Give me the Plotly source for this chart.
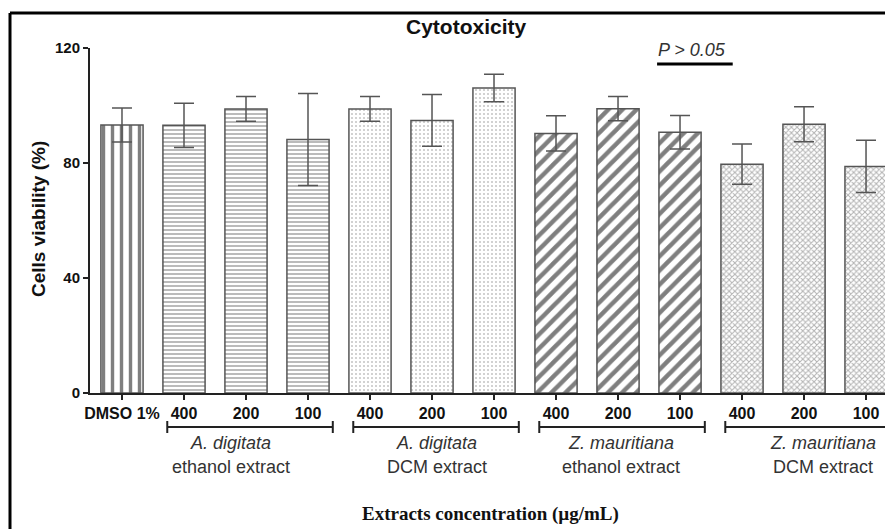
import plotly.graph_objects as go

# ---- data ----
tick_labels = ["DMSO 1%", "400", "200", "100", "400", "200", "100",
               "400", "200", "100", "400", "200", "100"]
viability = [93.2, 93.1, 98.8, 88.2, 98.8, 94.8, 106.1, 90.3, 98.9, 90.7, 79.6, 93.5, 78.8]
sem = [5.9, 7.7, 4.3, 16.0, 4.3, 9.0, 4.8, 6.1, 4.2, 5.8, 7.0, 6.1, 9.1]
group_of_bar = [0, 1, 1, 1, 2, 2, 2, 3, 3, 3, 4, 4, 4]
group_species = ["A. digitata", "A. digitata", "Z. mauritiana", "Z. mauritiana"]
group_solvent = ["ethanol extract", "DCM extract", "ethanol extract", "DCM extract"]
group_bars = [[1, 2, 3], [4, 5, 6], [7, 8, 9], [10, 11, 12]]
title = "Cytotoxicity"
y_title = "Cells viability (%)"
x_title = "Extracts concentration (µg/mL)"
sig_text = "P > 0.05"
sig_y = 114.4

# ---- styles ----
patterns = [
    dict(shape="|", fgcolor="#000000", bgcolor="white", size=9, solidity=0.38),
    dict(shape="-", fgcolor="#555555", bgcolor="white", size=4, solidity=0.4),
    dict(shape=".", fgcolor="#888888", bgcolor="white", size=4, solidity=0.2),
    dict(shape="/", fgcolor="#000000", bgcolor="white", size=10, solidity=0.45),
    dict(shape="x", fgcolor="#666666", bgcolor="white", size=4, solidity=0.45),
]
FONT = "Liberation Sans, Arial, sans-serif"

# browser body margin offsets the figure by 8px
OFF = 8
FIG_W, FIG_H = 893 - OFF, 529 - OFF

fig = go.Figure()
xs = list(range(len(viability)))
for g in range(5):
    idx = [i for i in xs if group_of_bar[i] == g]
    fig.add_trace(go.Bar(
        x=idx, y=[viability[i] for i in idx],
        error_y=dict(type="data", array=[sem[i] for i in idx],
                     color="#555555", thickness=1.5, width=10),
        width=0.68,
        marker=dict(color="white", pattern=patterns[g],
                    line=dict(color="#555555", width=1.5)),
        showlegend=False,
    ))

# plot area geometry in reference pixels: left 90, right 893, top 48, bottom 393
L, R, T, B = 90, 893, 48, 393
W, H = R - L, B - T
def px(x):
    return (x - L) / W
def py(y):
    return (B - y) / H

shapes = []
annotations = []
# frame
shapes.append(dict(type="line", xref="paper", yref="paper", x0=px(10), x1=px(893),
                   y0=py(13), y1=py(13), line=dict(color="black", width=3)))
shapes.append(dict(type="line", xref="paper", yref="paper", x0=px(10), x1=px(10),
                   y0=py(13), y1=py(529), line=dict(color="black", width=3)))

# group brackets
label_x = [1.75, 5.08, 8.05, 11.3]
for gi, bars in enumerate(group_bars):
    x0 = bars[0] - 0.27
    x1 = bars[-1] + 0.4
    yb = py(427)
    shapes.append(dict(type="line", xref="x", yref="paper", x0=x0, x1=x1, y0=yb, y1=yb,
                       line=dict(color="#222222", width=2)))
    for xe in (x0, x1):
        shapes.append(dict(type="line", xref="x", yref="paper", x0=xe, x1=xe,
                           y0=yb - 6 / H, y1=yb + 6 / H, line=dict(color="#222222", width=2)))
    annotations.append(dict(xref="x", yref="paper", x=label_x[gi], y=py(443),
                            text="<i>" + group_species[gi] + "</i>", showarrow=False,
                            font=dict(family=FONT, size=18, color="#333333"), yanchor="middle"))
    annotations.append(dict(xref="x", yref="paper", x=label_x[gi], y=py(467),
                            text=group_solvent[gi], showarrow=False,
                            font=dict(family=FONT, size=18, color="#333333"), yanchor="middle"))

# significance
shapes.append(dict(type="line", xref="x", yref="y", x0=8.63, x1=9.85, y0=sig_y, y1=sig_y,
                   line=dict(color="black", width=3)))
annotations.append(dict(xref="x", yref="paper", x=9.2, y=py(50), text="<i>" + sig_text + "</i>",
                        showarrow=False, font=dict(family=FONT, size=18, color="#333333"),
                        yanchor="middle"))

# titles
annotations.append(dict(xref="paper", yref="paper", x=px(466), y=py(26), text="<b>" + title + "</b>",
                        showarrow=False, font=dict(family=FONT, size=21, color="#111111"),
                        yanchor="middle"))
annotations.append(dict(xref="paper", yref="paper", x=px(38), y=py(219), text="<b>" + y_title + "</b>",
                        showarrow=False, textangle=-90,
                        font=dict(family=FONT, size=19, color="#111111"),
                        xanchor="center", yanchor="middle"))
annotations.append(dict(xref="paper", yref="paper", x=px(490), y=py(514), text="<b>" + x_title + "</b>",
                        showarrow=False,
                        font=dict(family="Liberation Serif, Times New Roman, serif", size=19, color="#111111"),
                        yanchor="middle"))

fig.update_layout(
    width=FIG_W, height=FIG_H,
    margin=dict(l=L - OFF, r=893 - R, t=T - OFF, b=529 - B, pad=0),
    plot_bgcolor="white", paper_bgcolor="white",
    bargap=0.3,
    shapes=shapes, annotations=annotations,
    xaxis=dict(range=[-0.516, 12.435], tickmode="array", tickvals=xs, ticktext=tick_labels,
               showline=True, linecolor="#222222", linewidth=2, ticks="outside",
               ticklen=5, tickwidth=2, tickcolor="#222222", showgrid=False, zeroline=False,
               tickfont=dict(family=FONT, size=16, color="#111111", weight="bold")),
    yaxis=dict(range=[0, 120], tickvals=[0, 40, 80, 120], showline=True, linecolor="#222222",
               linewidth=2, ticks="outside", ticklen=5, tickwidth=2, tickcolor="#222222",
               showgrid=False, zeroline=False,
               tickfont=dict(family=FONT, size=15, color="#111111", weight="bold")),
)

fig.write_html("out.html")
